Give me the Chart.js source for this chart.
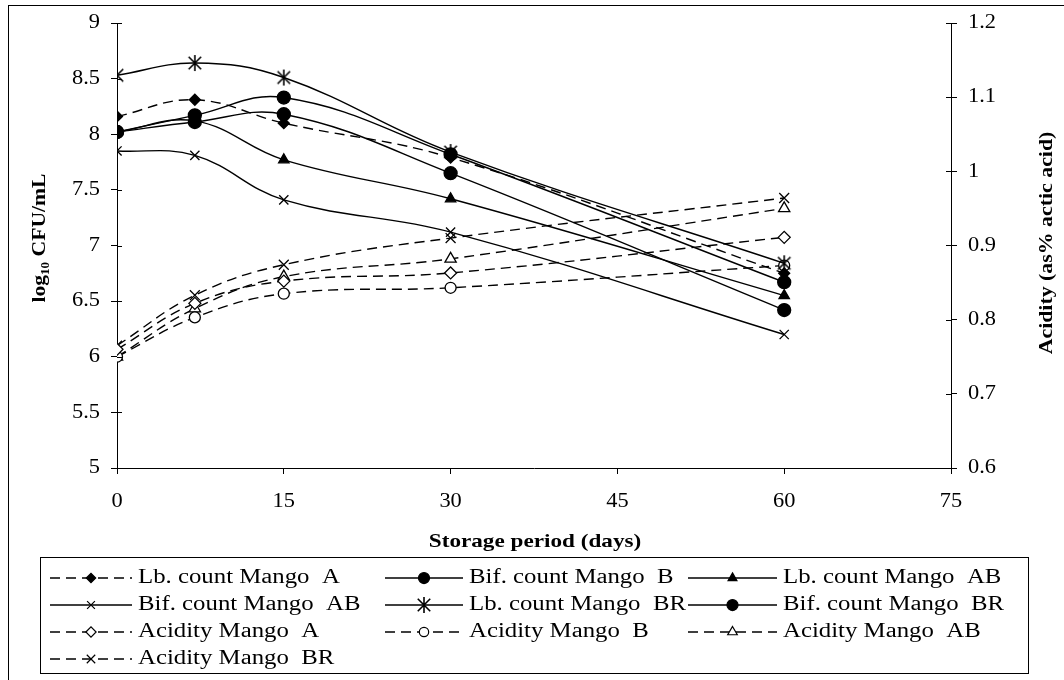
<!DOCTYPE html>
<html lang="en">
<head>
<meta charset="UTF-8">
<title>Mango storage - counts and acidity</title>
<script src="https://cdn.jsdelivr.net/npm/chart.js"></script>
<style>
  body {margin: 0; background: #fff;}
  #chart {display: block;}
</style>
</head>
<body>
<canvas id="chart" width="1064" height="680"></canvas>
<script>
  // storage days and readings
  const days = [0, 7, 15, 30, 60];
  const xTicks = [0, 15, 30, 45, 60, 75];
  const leftTicks = [5, 5.5, 6, 6.5, 7, 7.5, 8, 8.5, 9];
  const rightTicks = [0.6, 0.7, 0.8, 0.9, 1, 1.1, 1.2];

  const lbMangoA   = [8.16, 8.31, 8.10, 7.79, 6.75];
  const bifMangoB  = [8.02, 8.17, 8.33, 7.82, 6.67];
  const lbMangoAB  = [8.02, 8.12, 7.77, 7.42, 6.55];
  const bifMangoAB = [7.85, 7.81, 7.41, 7.12, 6.20];
  const lbMangoBR  = [8.53, 8.64, 8.51, 7.84, 6.84];
  const bifMangoBR = [8.02, 8.11, 8.18, 7.65, 6.42];

  const acidMangoA  = [0.760, 0.822, 0.852, 0.863, 0.911];
  const acidMangoB  = [0.750, 0.803, 0.835, 0.843, 0.873];
  const acidMangoAB = [0.750, 0.815, 0.858, 0.882, 0.950];
  const acidMangoBR = [0.765, 0.833, 0.874, 0.910, 0.964];

  const serif = "'Liberation Serif', 'Times New Roman', serif";
  Chart.defaults.font.family = serif;
  Chart.defaults.color = '#000';

  // asterisk marker: vertical bar + X
  function asterisk(size) {
    const c = document.createElement('canvas');
    c.width = c.height = size;
    const g = c.getContext('2d');
    const m = size / 2, r = size / 2 - 1, d = r * 0.78;
    g.strokeStyle = '#000';
    g.lineWidth = 1.6;
    g.beginPath();
    g.moveTo(m, m - r); g.lineTo(m, m + r);
    g.moveTo(m - d, m - d); g.lineTo(m + d, m + d);
    g.moveTo(m - d, m + d); g.lineTo(m + d, m - d);
    g.stroke();
    return c;
  }

  const pts = vals => days.map((d, i) => ({x: d, y: vals[i]}));
  const dash = [10, 6];

  function series(label, vals, axis, style, fill, radius, dashed) {
    return {
      label: label,
      data: pts(vals),
      yAxisID: axis,
      borderColor: '#000',
      borderWidth: 1.4,
      borderDash: dashed ? dash : [],
      pointStyle: style,
      pointRadius: radius,
      pointHoverRadius: radius,
      pointBackgroundColor: fill,
      pointBorderColor: '#000',
      pointBorderWidth: 1.3,
      tension: 0.4,
      fill: false
    };
  }

  const star = asterisk(18);

  const datasets = [
    series('Lb. count Mango  A',   lbMangoA,   'y',  'rectRot',  '#000', 5.5, true),
    series('Bif. count Mango  B',  bifMangoB,  'y',  'circle',   '#000', 6.5, false),
    series('Lb. count Mango  AB',  lbMangoAB,  'y',  'triangle', '#000', 6,   false),
    series('Bif. count Mango  AB', bifMangoAB, 'y',  'crossRot', '#000', 6.5, false),
    series('Lb. count Mango  BR',  lbMangoBR,  'y',  star,       '#000', 8,   false),
    series('Bif. count Mango  BR', bifMangoBR, 'y',  'circle',   '#000', 6.5, false),
    series('Acidity Mango  A',     acidMangoA, 'y2', 'rectRot',  '#fff', 6,   true),
    series('Acidity Mango  B',     acidMangoB, 'y2', 'circle',   '#fff', 5.5, true),
    series('Acidity Mango  AB',    acidMangoAB,'y2', 'triangle', '#fff', 6.5, true),
    series('Acidity Mango  BR',    acidMangoBR,'y2', 'crossRot', '#fff', 7,   true)
  ];

  // legend sample spans per column
  const legendCols = [[50, 132], [385, 463], [688, 777]];

  // the scanned figure's lettering is wide; draw text stretched along its line
  function wideText(ctx, str, x, y, font, sx, align, rot) {
    ctx.save();
    ctx.translate(x, y);
    if (rot) ctx.rotate(rot);
    ctx.scale(sx, 1);
    ctx.font = font;
    ctx.fillStyle = '#000';
    ctx.textAlign = align;
    ctx.textBaseline = 'middle';
    ctx.fillText(str, 0, 0);
    ctx.restore();
  }

  const textAndLegend = {
    id: 'textAndLegend',
    afterDraw(chart) {
      const ctx = chart.ctx;
      const sx = chart.scales.x, sy = chart.scales.y, sy2 = chart.scales.y2;
      const area = chart.chartArea;
      const tickFont = '20px ' + serif;
      const titleFont = 'bold 19px ' + serif;
      ctx.save();

      // inner half of the crossing tick marks on both value axes
      ctx.strokeStyle = '#000';
      ctx.lineWidth = 1;
      ctx.beginPath();
      leftTicks.forEach(v => {
        const p = Math.round(sy.getPixelForValue(v)) + 0.5;
        ctx.moveTo(area.left, p); ctx.lineTo(area.left + 5, p);
      });
      rightTicks.forEach(v => {
        const p = Math.round(sy2.getPixelForValue(v)) + 0.5;
        ctx.moveTo(area.right - 5, p); ctx.lineTo(area.right, p);
      });
      ctx.stroke();

      // tick labels
      xTicks.forEach(v => wideText(ctx, String(v), sx.getPixelForValue(v), 502, tickFont, 1.12, 'center'));
      leftTicks.forEach(v => wideText(ctx, String(v), 100, sy.getPixelForValue(v), tickFont, 1.12, 'right'));
      rightTicks.forEach(v => wideText(ctx, String(v), 968, sy2.getPixelForValue(v), tickFont, 1.12, 'left'));

      // axis titles
      wideText(ctx, 'Storage period (days)', 535, 542, titleFont, 1.22, 'center');
      wideText(ctx, 'log\u2081\u2080 CFU/mL', 40, 238, titleFont, 1.14, 'center', -Math.PI / 2);
      wideText(ctx, 'Acidity (as% actic acid)', 1047, 243, titleFont, 1.15, 'center', -Math.PI / 2);

      // outer frame (right/bottom run off the picture)
      ctx.strokeRect(8.5, 5.5, 1100, 700);

      // legend box
      ctx.strokeRect(40.5, 557.5, 988, 116);
      chart.data.datasets.forEach((ds, i) => {
        const [a, b] = legendCols[i % 3];
        const y = 578 + Math.floor(i / 3) * 27;
        ctx.strokeStyle = '#000';
        ctx.lineWidth = ds.borderWidth;
        ctx.setLineDash(ds.borderDash);
        ctx.beginPath();
        ctx.moveTo(a, y);
        ctx.lineTo(b, y);
        ctx.stroke();
        ctx.setLineDash([]);
        ctx.fillStyle = ds.pointBackgroundColor;
        ctx.lineWidth = 1.2;
        Chart.helpers.drawPoint(ctx, {
          pointStyle: ds.pointStyle, radius: ds.pointRadius * 0.85, borderWidth: 1.2, rotation: 0
        }, (a + b) / 2, y);
        wideText(ctx, ds.label, b + 6, y, '20px ' + serif, 1.24, 'left');
      });
      ctx.restore();
    }
  };

  const axisGrid = {display: true, drawOnChartArea: false, drawTicks: true, tickLength: 6, color: '#000'};
  const axisBorder = {display: true, color: '#000', width: 1};
  const setTicks = arr => s => { s.ticks = arr.map(v => ({value: v})); };

  new Chart(document.getElementById('chart'), {
    type: 'line',
    data: {datasets: datasets},
    options: {
      responsive: false,
      animation: false,
      layout: {padding: {top: 23, bottom: 124, left: 0, right: 0}},
      plugins: {legend: {display: false}, tooltip: {enabled: false}},
      scales: {
        x: {
          type: 'linear',
          min: 0, max: 75,
          afterBuildTicks: setTicks(xTicks),
          afterFit: s => { s.height = 88; },
          grid: axisGrid,
          border: axisBorder,
          ticks: {display: false}
        },
        y: {
          position: 'left',
          min: 5, max: 9,
          afterBuildTicks: setTicks(leftTicks),
          afterFit: s => { s.width = 117; },
          grid: axisGrid,
          border: axisBorder,
          ticks: {display: false}
        },
        y2: {
          position: 'right',
          min: 0.6, max: 1.2,
          afterBuildTicks: setTicks(rightTicks),
          afterFit: s => { s.width = 113; },
          grid: axisGrid,
          border: axisBorder,
          ticks: {display: false}
        }
      }
    },
    plugins: [textAndLegend]
  });
</script>
</body>
</html>
